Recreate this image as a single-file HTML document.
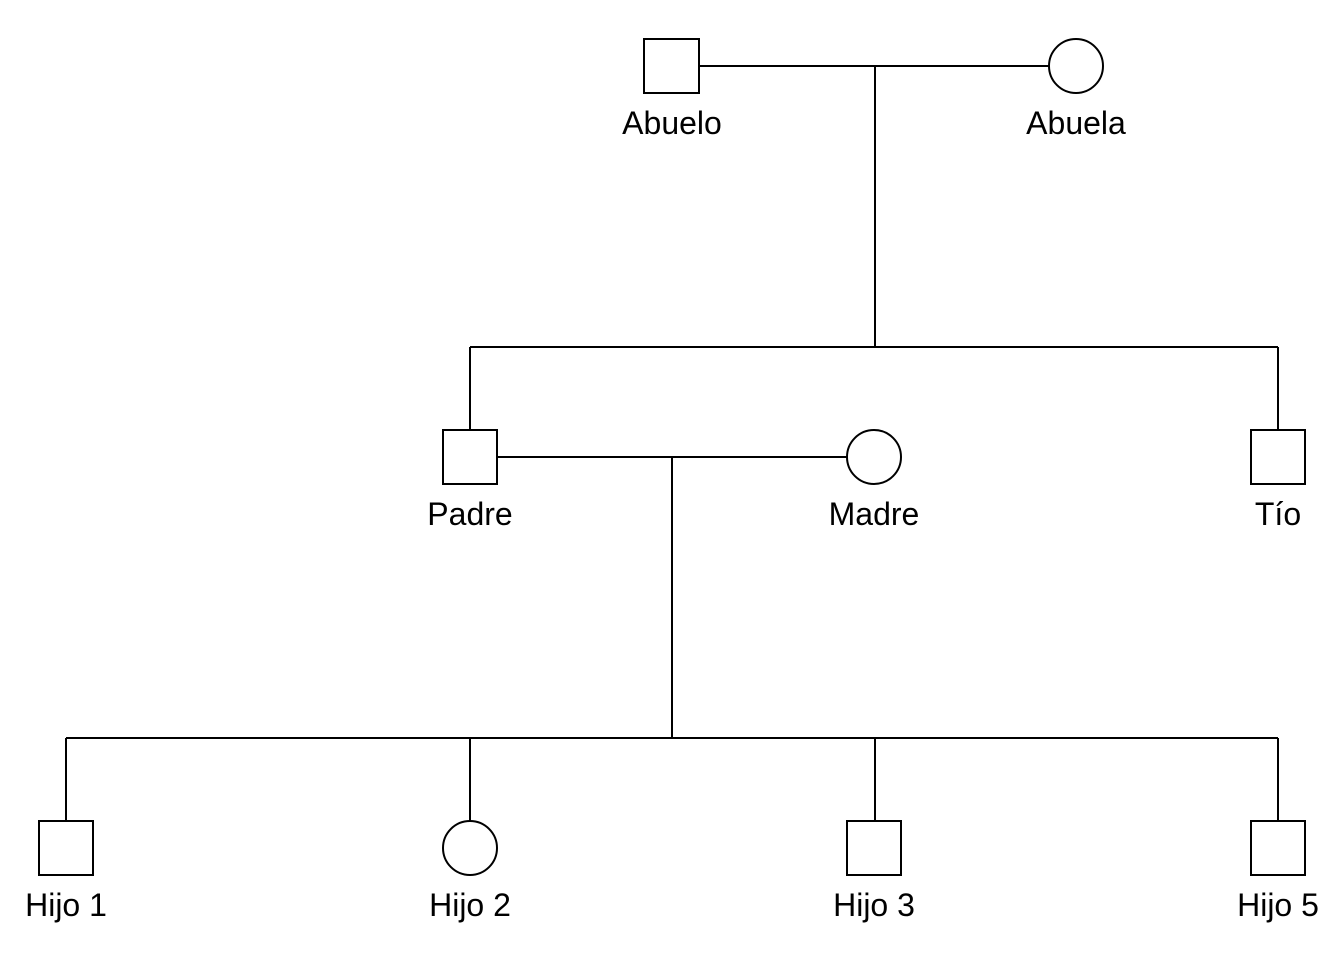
<!DOCTYPE html>
<html><head><style>body{margin:0;background:#fff}svg{display:block}</style></head><body>
<svg width="1344" height="960" xmlns="http://www.w3.org/2000/svg" font-family="Liberation Sans, Arial, sans-serif" font-size="32" text-anchor="middle">
<g stroke="#000" stroke-width="2" fill="none">
<line x1="699" y1="66" x2="1049" y2="66"/>
<line x1="875" y1="66" x2="875" y2="347"/>
<line x1="470" y1="347" x2="1278" y2="347"/>
<line x1="470" y1="347" x2="470" y2="430"/>
<line x1="1278" y1="347" x2="1278" y2="430"/>
<line x1="497" y1="457" x2="847" y2="457"/>
<line x1="672" y1="457" x2="672" y2="738"/>
<line x1="66" y1="738" x2="1278" y2="738"/>
<line x1="66" y1="738" x2="66" y2="821"/>
<line x1="470" y1="738" x2="470" y2="821"/>
<line x1="875" y1="738" x2="875" y2="821"/>
<line x1="1278" y1="738" x2="1278" y2="821"/>
<rect x="644" y="39" width="55" height="54" fill="#fff"/>
<circle cx="1076" cy="66" r="27" fill="#fff"/>
<rect x="443" y="430" width="54" height="54" fill="#fff"/>
<circle cx="874" cy="457" r="27" fill="#fff"/>
<rect x="1251" y="430" width="54" height="54" fill="#fff"/>
<rect x="39" y="821" width="54" height="54" fill="#fff"/>
<circle cx="470" cy="848" r="27" fill="#fff"/>
<rect x="847" y="821" width="54" height="54" fill="#fff"/>
<rect x="1251" y="821" width="54" height="54" fill="#fff"/>
</g>
<g fill="#000">
<text x="672" y="134">Abuelo</text>
<text x="1076" y="134">Abuela</text>
<text x="470" y="525">Padre</text>
<text x="874" y="525">Madre</text>
<text x="1278" y="525">Tío</text>
<text x="66" y="916">Hijo 1</text>
<text x="470" y="916">Hijo 2</text>
<text x="874" y="916">Hijo 3</text>
<text x="1278" y="916">Hijo 5</text>
</g>
</svg>
</body></html>
